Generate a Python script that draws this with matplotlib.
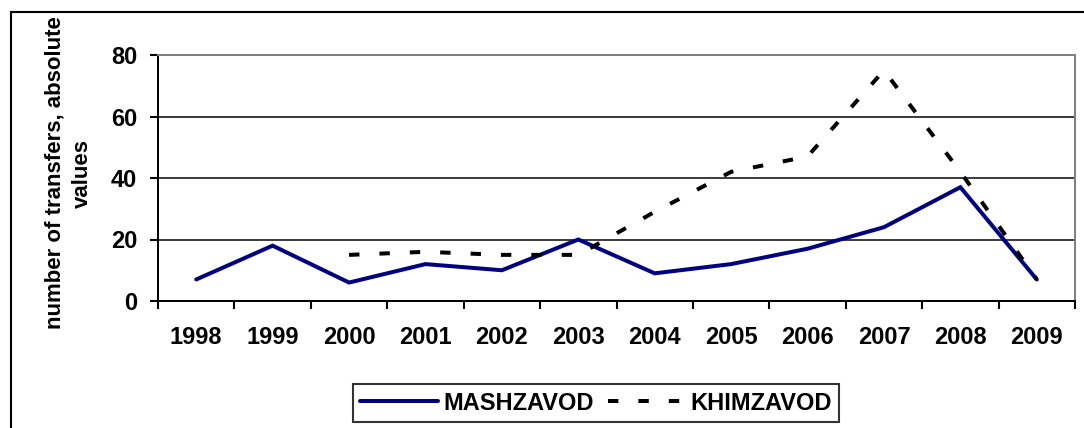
import matplotlib
matplotlib.use("Agg")
import matplotlib.pyplot as plt
from matplotlib.lines import Line2D
import numpy as np

years = ["1998", "1999", "2000", "2001", "2002", "2003", "2004", "2005", "2006", "2007", "2008", "2009"]
mashzavod = [7, 18, 6, 12, 10, 20, 9, 12, 17, 24, 37, 7]
khimzavod = [np.nan, np.nan, 15, 16, 15, 15, 29, 42, 47, 75, 42, 7]
y_ticks = [0, 20, 40, 60, 80]

plt.rcParams['font.family'] = ['Liberation Sans', 'DejaVu Sans']
plt.rcParams['font.weight'] = 'bold'

W, H = 1084, 428
fig = plt.figure(figsize=(W / 100, H / 100), dpi=100)
ax = fig.add_axes([158 / W, 1 - 301 / H, (1075 - 158) / W, (301 - 55) / H])

x = np.arange(len(years)) + 0.5
lw = 4 * 0.72
ax.plot(x, mashzavod, color='#000080', lw=lw, solid_capstyle='round', solid_joinstyle='miter',
        label='MASHZAVOD', zorder=3)
ax.plot(x, khimzavod, color='black', lw=lw, dashes=(2.6, 5.0), dash_capstyle='butt',
        label='KHIMZAVOD', zorder=3)

ax.set_xlim(0, len(years))
ax.set_ylim(0, 80)
ax.set_yticks(y_ticks)
ax.set_yticklabels([str(v) for v in y_ticks])
for v in y_ticks[1:-1]:
    ax.axhline(v, color='black', lw=1.5 * 0.72, zorder=1)

ax.set_xticks(np.arange(len(years) + 1))
ax.set_xticklabels([])
ax.set_xticks(x, minor=True)
ax.set_xticklabels(years, minor=True)
ax.tick_params(axis='x', which='major', direction='out', length=6, width=1.5, color='black')
ax.tick_params(axis='x', which='minor', length=0, pad=18, labelsize=17)
ax.tick_params(axis='y', direction='out', length=6, width=1.5, pad=9, labelsize=17)

for side in ['left', 'bottom']:
    ax.spines[side].set_color('black')
    ax.spines[side].set_linewidth(2 * 0.72)
for side in ['top', 'right']:
    ax.spines[side].set_color('#808080')
    ax.spines[side].set_linewidth(2 * 0.72)

fig.text(69 / W, 1 - 173 / H, "number of transfers, absolute\nvalues", rotation=90,
         ha='center', va='center', fontsize=16, fontweight='bold', linespacing=1.4,
         multialignment='center')

leg = fig.legend(loc='center', bbox_to_anchor=(596 / W, 1 - 403 / H), ncol=2, frameon=True,
                 fancybox=False, edgecolor='black', fontsize=17, handlelength=3.3,
                 handletextpad=0.2, columnspacing=0.6, borderpad=0.3, borderaxespad=0)
leg.get_frame().set_linewidth(1.5)
for t in leg.get_texts():
    t.set_fontweight('bold')

# figure border (left and top edges visible)
fig.add_artist(Line2D([11 / W, 11 / W], [0, 1 - 12 / H], color='black', lw=1.5))
fig.add_artist(Line2D([11 / W, 1], [1 - 12 / H, 1 - 12 / H], color='black', lw=1.5))

fig.savefig("out.png", dpi=100)
